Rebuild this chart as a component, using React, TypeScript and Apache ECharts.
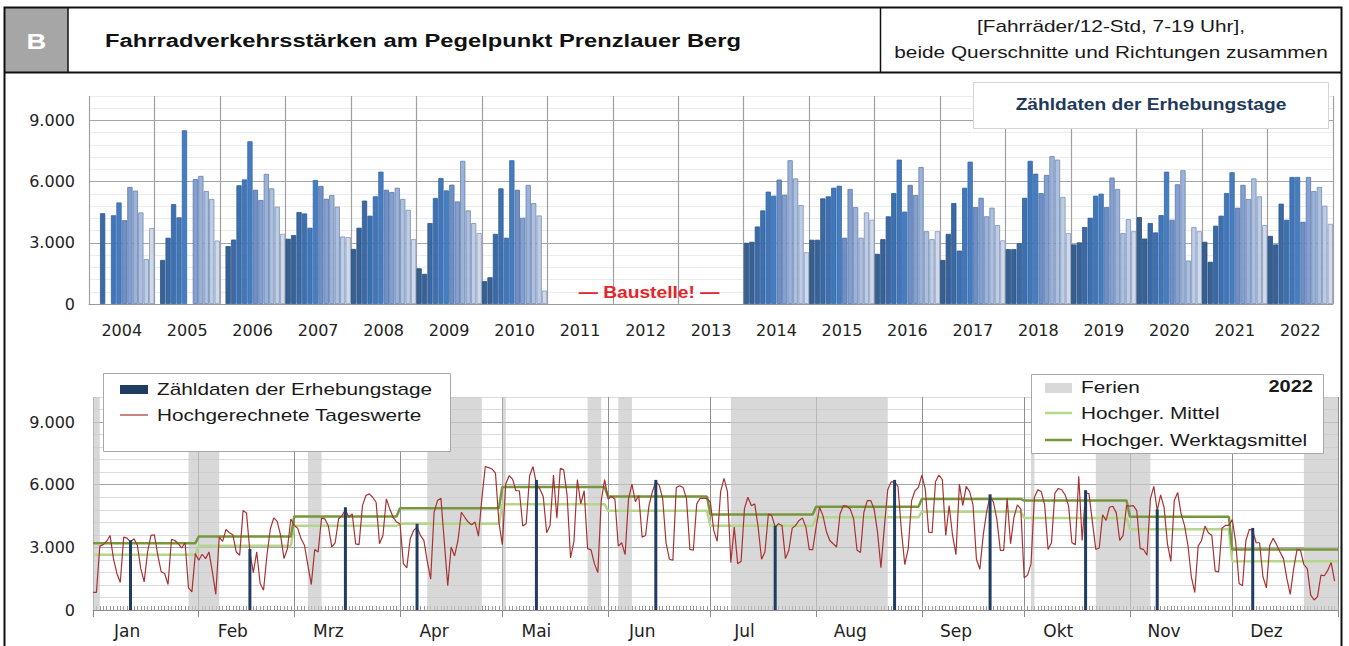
import React, { useEffect, useRef } from 'react';
import * as echarts from 'echarts';

// ---------- top chart: monthly survey counts per year ----------
const years = ['2004','2005','2006','2007','2008','2009','2010','2011','2012','2013','2014','2015','2016','2017','2018','2019','2020','2021','2022'];
const monthNames = ['Jan','Feb','Mrz','Apr','Mai','Jun','Jul','Aug','Sep','Okt','Nov','Dez'];
const yTickLabels = [0, 3000, 6000, 9000];

const v2004 = [null, null, 4450, null, 4350, 4980, 4110, 5740, 5560, 4490, 2200, 3720];
const v2005 = [null, 2160, 3250, 4900, 4250, 8520, null, 6130, 6280, 5540, 5150, 3110];
const v2006 = [null, 2840, 3160, 5820, 6110, 7980, 5600, 5100, 6380, 5670, 4770, 3440];
const v2007 = [3200, 3380, 4510, 4440, 3740, 6080, 5790, 5160, 5340, 4770, 3310, 3280];
const v2008 = [2700, 3740, 5070, 4330, 5280, 6490, 5600, 5490, 5700, 5150, 4620, 3180];
const v2009 = [1750, 1480, 3970, 5200, 6180, 5570, 5850, 5030, 7020, 4590, 3970, 3480];
const v2010 = [1120, 1310, 3440, 5670, 3250, 7050, 5600, 4230, 5840, 4950, 4340, 660];
const v2011 = [null, null, null, null, null, null, null, null, null, null, null, null];
const v2012 = [null, null, null, null, null, null, null, null, null, null, null, null];
const v2013 = [null, null, null, null, null, null, null, null, null, null, null, null];
const v2014 = [3000, 3050, 3800, 4590, 5510, 5310, 6100, 5360, 7050, 6160, 4850, 2540];
const v2015 = [3150, 3150, 5180, 5280, 5700, 5800, 3250, 5640, 4750, 3250, 4490, 4130];
const v2016 = [2460, 3180, 4300, 5440, 7080, 4530, 5840, 5340, 6720, 3570, 3180, 3570];
const v2017 = [2160, 3440, 4950, 2620, 5700, 6980, 4750, 5210, 4300, 4720, 3870, 3120];
const v2018 = [2690, 2690, 2980, 5210, 7020, 6390, 5440, 6330, 7250, 7080, 5250, 3480];
const v2019 = [2920, 3020, 3770, 4230, 5310, 5410, 4750, 6200, 5640, 3480, 4160, 3570];
const v2020 = [4260, 3210, 3970, 3510, 4360, 6490, 4130, 5870, 6560, 2130, 3770, 3570];
const v2021 = [3050, 2070, 3840, 4330, 5440, 6460, 4720, 5840, 5150, 6160, 5280, 3870];
const v2022 = [3340, 2920, 4920, 4130, 6230, 6230, 4030, 6230, 5540, 5740, 4820, 3930];
const yearValues = [v2004, v2005, v2006, v2007, v2008, v2009, v2010, v2011, v2012, v2013,
  v2014, v2015, v2016, v2017, v2018, v2019, v2020, v2021, v2022];

// ---------- bottom chart: 2022 daily projected values ----------
const dJan = [840,840,3060,3130,3290,3570,2460,1750,1320,3490,3440,3250,3410,3100,1980,1350,2780,3570,3600,2620,1830,1750,1220,3380,3330,3170,2970,3220,1060,870,2700];
const dFeb = [2380,2670,2460,2780,1830,750,3490,3290,3860,3700,3600,2780,2620,4760,4650,2780,1790,2780,1270,950,2620,3890,4410,4240,3570,2460,2940,4360];
const dMar = [4050,3920,3410,3100,2140,1220,2900,2780,4400,4360,4020,3020,3220,4360,4520,4800,4440,4600,3170,3130,5000,5480,5560,5400,5160,3170,3570,5320,4840,4440,4210];
const dApr = [4130,2220,2020,3410,3810,3970,3570,3330,2330,1480,4680,5240,5350,3250,1160,3020,2590,3330,4680,4440,4210,4080,4210,3540,5320,6870,6820,6750,6550,4210];
const dMai = [3130,6030,6430,6270,5710,5710,4020,4130,6430,6870,6030,5790,5440,3700,4050,6460,4400,6780,6710,5480,2490,3290,6240,5080,5710,2940,2880,2220,1790,5240,6240];
const dJun = [5320,5440,5320,3060,3220,2650,5320,6030,5190,5480,3490,3570,5000,5670,6140,5980,5350,3220,2430,2380,5870,5950,5870,5320,2900,2860,5080,5350,5350,5350];
const dJul = [5160,3800,3290,5670,6300,5670,2270,3970,2220,2330,4870,5400,5000,5080,3970,2430,2780,4600,4520,3970,4130,4050,2460,2860,3920,4050,4290,4400,3970,2890,2890];
const dAug = [3970,4920,4520,3760,3330,3170,3020,4600,5000,4970,4840,4360,2860,2750,4680,5240,5240,4840,3730,2020,3970,5760,6140,6140,5920,3810,2170,2940,5240,5710,5870];
const dSep = [6460,5790,3730,3700,6140,6460,6240,3570,5000,3570,2650,6030,5000,5920,5670,5030,2430,1950,3600,4710,5440,5160,4330,2860,2860,5350,3170,4440,5030,4840];
const dOkt = [1540,1670,2220,5400,5760,5670,5030,2900,3220,5600,5820,5760,5510,5000,3220,3130,6400,3330,5630,5560,4210,2900,2970,4560,4290,4920,4970,4650,3330,3570,5000];
const dNov = [4970,5000,4760,2940,2900,2620,5320,5920,4760,5510,4920,3170,2330,5240,5630,4600,4050,3100,1590,840,3060,3330,4020,3700,3570,1860,1830,3920,4050,4050];
const dDez = [4330,3250,1270,1160,3330,3860,3810,3220,3220,1590,1060,3100,3440,3130,2780,2460,1510,750,1980,2900,2860,2170,1980,710,480,640,1670,1640,1900,2270,1380];
const dailyByMonth = [dJan, dFeb, dMar, dApr, dMai, dJun, dJul, dAug, dSep, dOkt, dNov, dDez];

const mittel = [2650, 3080, 4030, 4130, 5060, 4750, 4030, 4440, 4710, 4410, 3870, 2330];
const werktagsmittel = [3200, 3520, 4480, 4870, 5890, 5440, 4570, 4950, 5320, 5240, 4460, 2900];
const surveyDays = [11, 46, 74, 95, 130, 165, 200, 235, 263, 291, 312, 340];
const ferien = [[0, 2], [28, 37], [63, 67], [98, 114], [120, 121], [145, 149], [154, 158], [187, 233], [275, 276], [294, 310], [355, 365]];

// ---------- styles ----------
const barFill = ['#35608f','#36629a','#3a69a5','#3c70b0','#4077ba','#457ec0','#6f8fc6','#859fce','#9cb2d7','#adc0dd','#bfcde4','#d0daeb'];
const barEdge = ['#2b4f7a','#2d5383','#2f5a90','#315f99','#3465a3','#3868a8','#4d6fa5','#5a79ab','#6683b2','#7089b6','#7a90b8','#8798bd'];
const AX = 'DejaVu Sans';
const TX = 'Liberation Sans, Arial, sans-serif';

export default function App() {
  const ref = useRef<HTMLDivElement>(null);
  useEffect(() => {
    const chart = echarts.init(ref.current!, null, { renderer: 'svg' });

    const monthLengths = dailyByMonth.map((a) => a.length);
    const monthStarts: number[] = [];
    monthLengths.forEach((len, i) => monthStarts.push(i === 0 ? 0 : monthStarts[i - 1] + monthLengths[i - 1]));
    const totalDays = monthLengths.reduce((a, b) => a + b, 0);
    const dayCats = Array.from({ length: totalDays + 1 }, (_, i) => String(i));
    const monthOf = (d: number) => { let m = 0; monthStarts.forEach((s, i) => { if (d >= s) m = i; }); return m; };
    const monthStartSet = new Set([...monthStarts, totalDays]);
    const labelDays = new Map(monthStarts.map((s, i) => [s + 10, monthNames[i]]));
    const daily = dailyByMonth.flat();
    const meanData = (arr: number[]) => dayCats.map((_, d) => arr[monthOf(d)]);
    const surveyData = dayCats.map((_, d) => { const k = surveyDays.indexOf(d); return k >= 0 ? v2022[k] : '-'; });

    const monthCats = years.flatMap((y) => monthNames.map((m) => y + '-' + m));
    const barData = yearValues.flatMap((vals) => vals.map((v, m) => ({
      value: v === null ? '-' : v,
      itemStyle: { color: barFill[m], borderColor: barEdge[m], borderWidth: 0.8 },
    })));

    const fmt = (v: number) => (v === 0 ? '0' : yTickLabels.includes(v) ? (v / 1000).toFixed(3) : '');
    const yAxisBase = (grid: number, minorColor: string, margin: number) => ({
      gridIndex: grid, type: 'value', min: 0, max: 10200, interval: 600,
      axisLine: { show: false }, axisTick: { show: false },
      axisLabel: { formatter: fmt, fontFamily: AX, fontSize: 16, color: '#222', margin },
      splitLine: { lineStyle: { color: ['#a6a6a6', minorColor, minorColor, minorColor, minorColor], width: 1 } },
    });

    const txt = (text: string, x: number, y: number, opts: any = {}) => ({
      type: 'text', x, y, scaleX: opts.scaleX ?? 1.3, z: 100,
      style: { text, font: opts.font ?? `16px ${TX}`, fill: opts.fill ?? '#1a1a1a', align: opts.align ?? 'left', verticalAlign: 'middle' },
    });

    const option: any = {
      animation: false,
      backgroundColor: '#ffffff',
      grid: [
        { left: 89, right: 16, top: 96, bottom: 342 },
        { left: 93, right: 11, top: 397, bottom: 36 },
      ],
      xAxis: [
        { gridIndex: 0, type: 'category', data: monthCats, show: false },
        {
          gridIndex: 0, type: 'category', data: years, position: 'bottom',
          axisLine: { lineStyle: { color: '#9a9a9a' } }, axisTick: { show: false },
          axisLabel: { fontFamily: AX, fontSize: 16, color: '#222', margin: 18, interval: 0 },
          splitLine: { show: true, interval: 0, lineStyle: { color: '#a0a0a0', width: 1.2 } },
        },
        {
          gridIndex: 1, type: 'category', data: dayCats, boundaryGap: false, position: 'bottom',
          axisLine: { lineStyle: { color: '#8a8a8a' } },
          axisTick: { interval: 0, inside: true, length: 4, lineStyle: { color: '#9a9a9a' } },
          axisLabel: {
            interval: (i: number) => labelDays.has(i),
            formatter: (_v: string, i: number) => labelDays.get(i) ?? '',
            fontFamily: AX, fontSize: 17, color: '#222', margin: 12,
          },
          splitLine: { show: true, interval: (i: number) => monthStartSet.has(i), lineStyle: { color: '#8f8f8f', width: 1 } },
        },
        {
          gridIndex: 1, type: 'category', data: dayCats, boundaryGap: false, position: 'bottom',
          axisLine: { show: false },
          axisTick: { interval: (i: number) => monthStartSet.has(i), length: 7, lineStyle: { color: '#8a8a8a' } },
          axisLabel: { show: false }, splitLine: { show: false },
        },
      ],
      yAxis: [yAxisBase(0, '#ececec', 14), yAxisBase(1, '#dcdcdc', 18)],
      series: [
        {
          type: 'bar', xAxisIndex: 0, yAxisIndex: 0, data: barData,
          barCategoryGap: '4%', z: 3,
        },
        {
          name: 'Ferien', type: 'line', xAxisIndex: 2, yAxisIndex: 1, data: [], z: 1, silent: true,
          markArea: {
            silent: true,
            itemStyle: { color: 'rgba(200,200,200,0.7)' },
            data: ferien.map(([a, b]) => [{ xAxis: a }, { xAxis: b }]),
          },
        },
        {
          name: 'Hochger. Mittel', type: 'line', xAxisIndex: 2, yAxisIndex: 1, data: meanData(mittel),
          symbol: 'none', lineStyle: { color: '#b5d68c', width: 2.5 }, z: 3,
        },
        {
          name: 'Hochger. Werktagsmittel', type: 'line', xAxisIndex: 2, yAxisIndex: 1, data: meanData(werktagsmittel),
          symbol: 'none', lineStyle: { color: '#77973d', width: 2.5 }, z: 3,
        },
        {
          name: 'Hochgerechnete Tageswerte', type: 'line', xAxisIndex: 2, yAxisIndex: 1, data: daily,
          symbol: 'none', lineStyle: { color: '#a83232', width: 1.2 }, z: 4,
        },
        {
          name: 'Zähldaten der Erhebungstage', type: 'bar', xAxisIndex: 2, yAxisIndex: 1, data: surveyData,
          barWidth: 3, itemStyle: { color: '#1f3d63' }, z: 5,
        },
      ],
      graphic: [
        // frame + header
        { type: 'rect', z: 90, shape: { x: 5, y: 8, width: 63, height: 64 }, style: { fill: '#a6a6a6' } },
        { type: 'rect', z: 95, shape: { x: 4.5, y: 7.5, width: 1337, height: 660 }, style: { fill: 'none', stroke: '#111', lineWidth: 2 } },
        { type: 'line', z: 95, shape: { x1: 4.5, y1: 72.5, x2: 1341.5, y2: 72.5 }, style: { stroke: '#111', lineWidth: 2 } },
        { type: 'line', z: 95, shape: { x1: 68, y1: 7.5, x2: 68, y2: 72.5 }, style: { stroke: '#111', lineWidth: 1.5 } },
        { type: 'line', z: 95, shape: { x1: 880.5, y1: 7.5, x2: 880.5, y2: 72.5 }, style: { stroke: '#111', lineWidth: 1.5 } },
        txt('B', 36.5, 41, { font: `bold 22px ${TX}`, fill: '#ffffff', align: 'center', scaleX: 1.25 }),
        txt('Fahrradverkehrsstärken am Pegelpunkt Prenzlauer Berg', 105, 41, { font: `bold 18px ${TX}`, fill: '#111', scaleX: 1.32 }),
        txt('[Fahrräder/12-Std, 7-19 Uhr],', 1111, 26, { align: 'center' }),
        txt('beide Querschnitte und Richtungen zusammen', 1111, 52, { align: 'center' }),
        // top chart title box
        { type: 'rect', z: 90, shape: { x: 973.5, y: 82.5, width: 355, height: 46 }, style: { fill: '#ffffff', stroke: '#d4d4d4', lineWidth: 1 } },
        txt('Zähldaten der Erhebungstage', 1151, 105, { font: `bold 16px ${TX}`, fill: '#1f3a5a', align: 'center', scaleX: 1.2 }),
        txt('— Baustelle! —', 649, 293, { font: `bold 16px ${TX}`, fill: '#e3262b', align: 'center', scaleX: 1.2 }),
        // left legend
        { type: 'rect', z: 90, shape: { x: 103.5, y: 373.5, width: 347, height: 78 }, style: { fill: '#ffffff', stroke: '#a8a8a8', lineWidth: 1 } },
        { type: 'rect', z: 100, shape: { x: 120, y: 385, width: 28, height: 9 }, style: { fill: '#1f3d63' } },
        txt('Zähldaten der Erhebungstage', 157, 389),
        { type: 'line', z: 100, shape: { x1: 120, y1: 415, x2: 148, y2: 415 }, style: { stroke: '#a83232', lineWidth: 1.2 } },
        txt('Hochgerechnete Tageswerte', 157, 415),
        // right legend
        { type: 'rect', z: 90, shape: { x: 1031.5, y: 374.5, width: 292, height: 79 }, style: { fill: '#ffffff', stroke: '#a8a8a8', lineWidth: 1 } },
        { type: 'rect', z: 100, shape: { x: 1045, y: 383, width: 27, height: 10 }, style: { fill: '#d9d9d9' } },
        txt('Ferien', 1081, 387),
        txt('2022', 1313, 387, { font: `bold 16px ${TX}`, align: 'right', scaleX: 1.25 }),
        { type: 'line', z: 100, shape: { x1: 1045, y1: 413, x2: 1072, y2: 413 }, style: { stroke: '#b5d68c', lineWidth: 2.5 } },
        txt('Hochger. Mittel', 1081, 413),
        { type: 'line', z: 100, shape: { x1: 1045, y1: 440, x2: 1072, y2: 440 }, style: { stroke: '#77973d', lineWidth: 2.5 } },
        txt('Hochger. Werktagsmittel', 1081, 440),
      ],
    };
    chart.setOption(option);
    return () => chart.dispose();
  }, []);
  return <div ref={ref} style={{ position: 'fixed', left: 0, top: 0, width: 1349, height: 646, background: '#fff' }} />;
}
